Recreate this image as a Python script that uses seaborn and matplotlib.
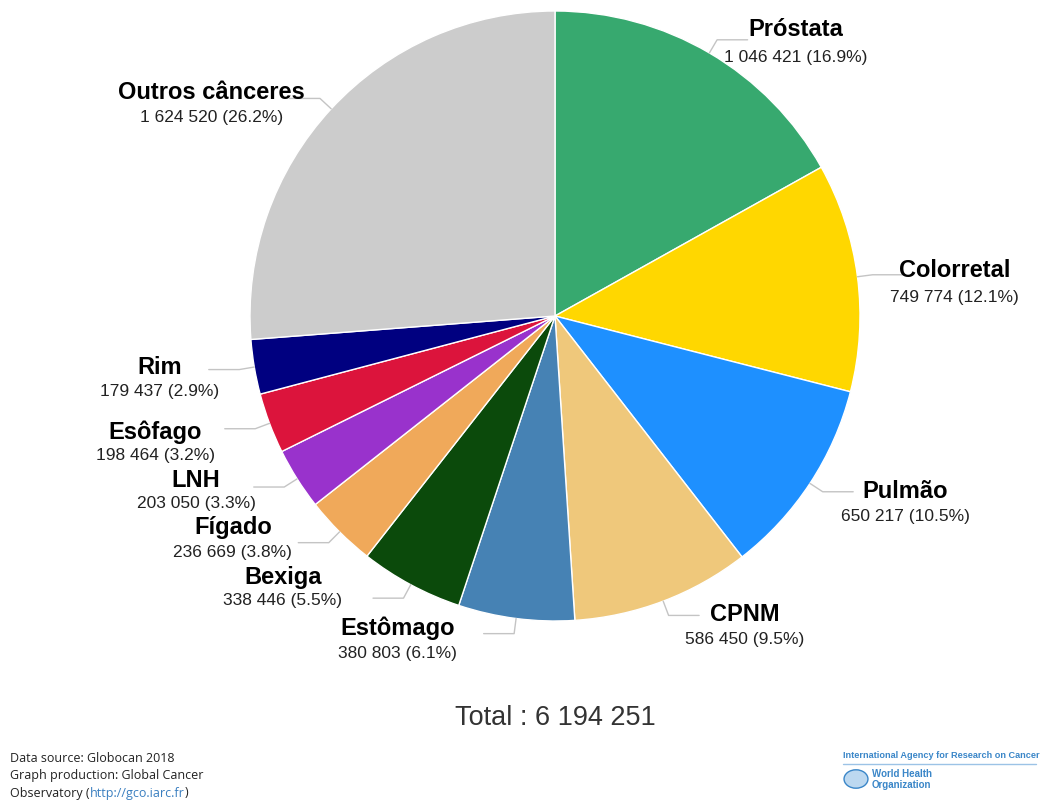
import numpy as np
import matplotlib
matplotlib.use("Agg")
import matplotlib.pyplot as plt
import seaborn as sns
from matplotlib.patches import Circle

sns.set_theme(style="white")
plt.rcParams['font.family'] = ['Liberation Sans', 'DejaVu Sans']

# ---- data ----
categories = ["Próstata", "Colorretal", "Pulmão", "CPNM", "Estômago", "Bexiga",
              "Fígado", "LNH", "Esôfago", "Rim", "Outros cânceres"]
values = [1046421, 749774, 650217, 586450, 380803, 338446,
          236669, 203050, 198464, 179437, 1624520]
colors = ["#37a96f", "#ffd700", "#1e90ff", "#efc87b", "#4682b4", "#0b4a0b",
          "#f0a95a", "#9932cc", "#dc143c", "#000080", "#cccccc"]

# label anchor positions (data units, pie radius = 1): title x, title y, value y
label_layout = [(0.79, 0.94, 0.846), (1.31, 0.148, 0.062), (1.148, -0.574, -0.656),
                (0.623, -0.98, -1.062), (-0.515, -1.023, -1.108), (-0.892, -0.856, -0.934),
                (-1.056, -0.695, -0.774), (-1.177, -0.538, -0.616), (-1.311, -0.380, -0.456),
                (-1.295, -0.170, -0.246), (-1.125, 0.734, 0.652)]

total = sum(values)

def fmt(v):
    return f"{v:,}".replace(",", " ")

fig = plt.figure(figsize=(10.4, 8), dpi=100)
cx, cy, R = 555, 316, 305
ax = fig.add_axes([(cx - R) / 1040, (800 - cy - R) / 800, 2 * R / 1040, 2 * R / 800])
wedges, _ = ax.pie(values, colors=colors, startangle=90, counterclock=False, radius=1,
                   wedgeprops=dict(edgecolor="white", linewidth=1.0))
ax.set_xlim(-1, 1)
ax.set_ylim(-1, 1)
ax.set_aspect('equal')
ax.axis('off')

for w, cat, v, (lx, ly, vy) in zip(wedges, categories, values, label_layout):
    mid = np.deg2rad((w.theta1 + w.theta2) / 2)
    x0, y0 = np.cos(mid), np.sin(mid)
    x1, y1 = 1.05 * x0, 1.05 * y0
    side = 1 if lx > 0 else -1
    x2 = x1 + side * 0.1
    ax.plot([x0, x1, x2], [y0, y1, y1],
            color="#c4c4c4", lw=1, clip_on=False, solid_capstyle='round')
    ax.text(lx, ly, cat, ha="center", va="center", fontsize=17, fontweight="bold",
            color="#000000", clip_on=False)
    ax.text(lx, vy, f"{fmt(v)} ({v / total * 100:.1f}%)", ha="center", va="center",
            fontsize=12.5, color="#222222", clip_on=False)

fig.text(555 / 1040, 1 - 718 / 800, f"Total : {fmt(total)}", ha="center", va="center",
         fontsize=19.5, color="#333333")

# footer
foot_kw = dict(fontsize=9, color="#222222", family=['Open Sans', 'DejaVu Sans'], va="center")
fig.text(10 / 1040, 1 - 758 / 800, "Data source: Globocan 2018", **foot_kw)
fig.text(10 / 1040, 1 - 776 / 800, "Graph production: Global Cancer", **foot_kw)
t = fig.text(10 / 1040, 1 - 793 / 800, "Observatory (", **foot_kw)
fig.canvas.draw()
bb = t.get_window_extent()
t2 = fig.text(bb.x1 / 1040, 1 - 793 / 800, "http://gco.iarc.fr", fontsize=9,
              color="#3a7fc0", family=['Open Sans', 'DejaVu Sans'], va="center")
fig.canvas.draw()
bb2 = t2.get_window_extent()
fig.text(bb2.x1 / 1040, 1 - 793 / 800, ")", **foot_kw)

# logo block
fig.text(843 / 1040, 1 - 755 / 800, "International Agency for Research on Cancer",
         fontsize=6.6, fontweight="bold", color="#3a86c8", va="center",
         family=['Liberation Sans Narrow', 'Liberation Sans'])
fig.add_artist(plt.Line2D([843 / 1040, 1036 / 1040], [1 - 764 / 800, 1 - 764 / 800],
                          color="#9cc3e6", lw=1, transform=fig.transFigure))
fig.add_artist(Circle((856 / 1040, 1 - 779 / 800), 0.0115, transform=fig.transFigure,
                      facecolor="#bcd8f0", edgecolor="#3a86c8", lw=1))
fig.text(872 / 1040, 1 - 774 / 800, "World Health", fontsize=7, fontweight="bold",
         color="#3a86c8", va="center")
fig.text(872 / 1040, 1 - 785 / 800, "Organization", fontsize=7, fontweight="bold",
         color="#3a86c8", va="center")

fig.savefig("out.png", dpi=100, facecolor="white")
